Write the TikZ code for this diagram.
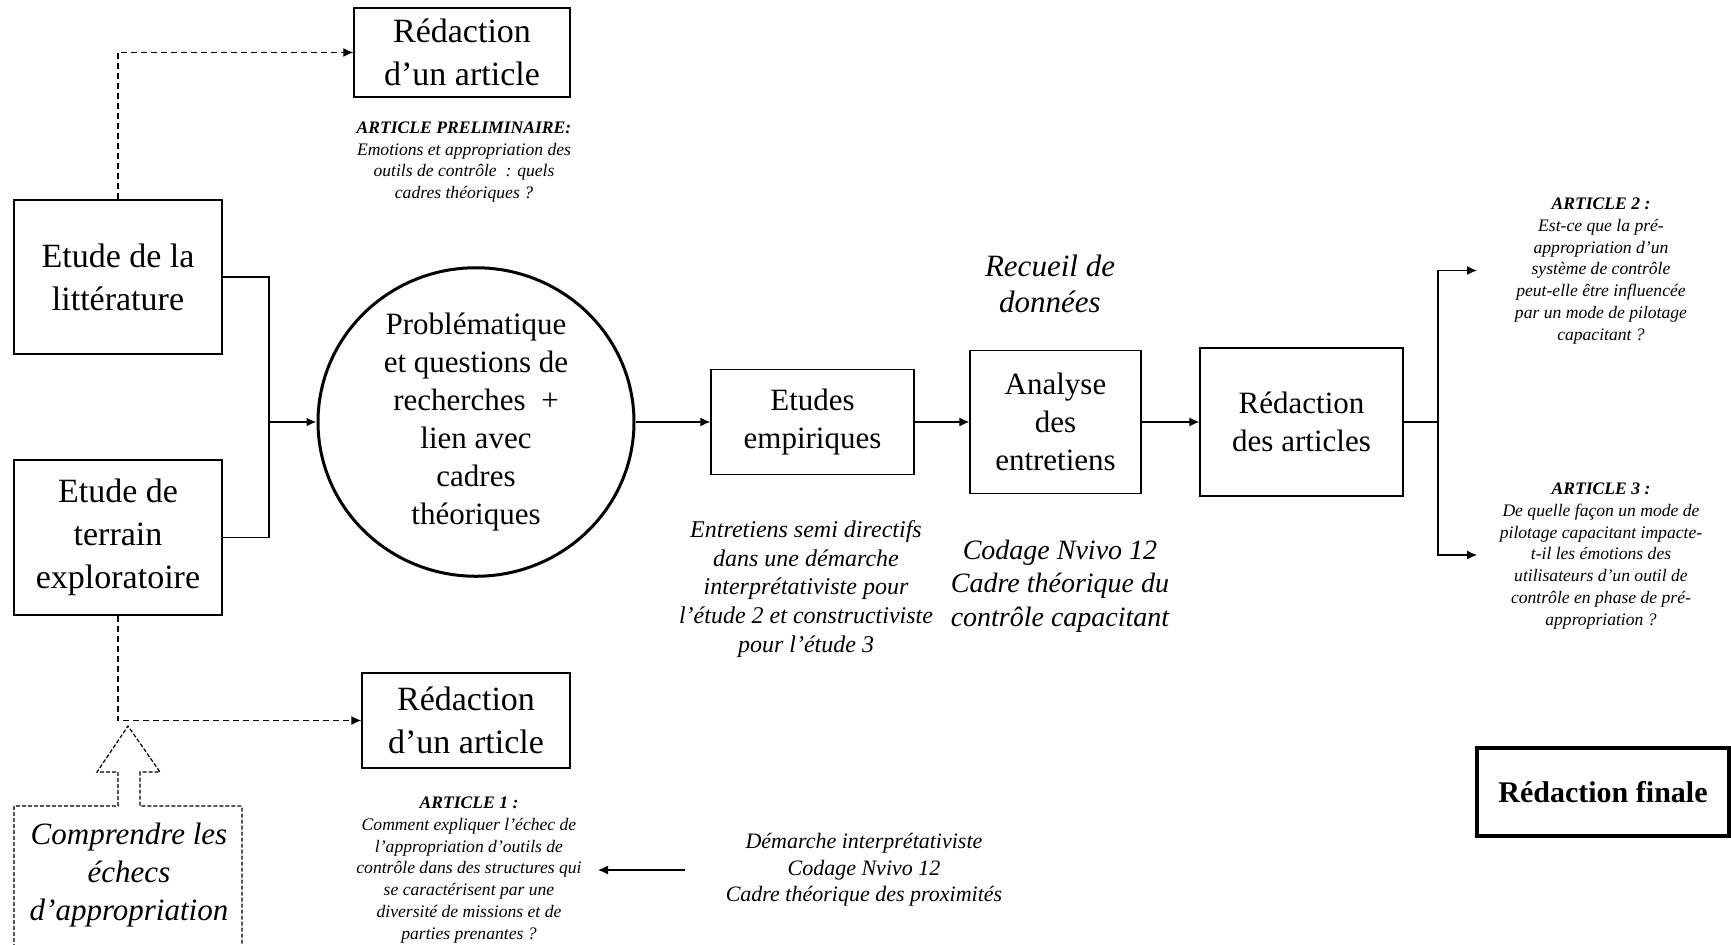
\documentclass[tikz,border=0pt]{standalone}
\usepackage{fontspec}
\setmainfont{Liberation Serif}
\usetikzlibrary{arrows.meta,shapes.geometric}

\begin{document}
\begin{tikzpicture}[x=0.5pt,y=-0.5pt]

\tikzset{boite/.style={draw,line width=0.7pt,align=center,inner sep=0pt,font=\fontsize{17}{21.5}\selectfont},}
\tikzset{etape/.style={draw,line width=0.7pt,align=center,inner sep=0pt,font=\fontsize{15.5}{19}\selectfont},}
\tikzset{petit/.style={align=center,inner sep=0pt,font=\itshape\fontsize{8.8}{10.9}\selectfont},}
\tikzset{note/.style={align=center,inner sep=0pt,font=\itshape},}
\tikzset{fleche/.style={-{Latex[length=5pt,width=4.5pt]},line width=0.6pt},}
\tikzset{pointille/.style={fleche,dash pattern=on 3pt off 2pt},}

\useasboundingbox (0,0) rectangle (1731,944);
\clip (0,0) rectangle (1731,944);

	\draw
		(462,52.5) node[boite,minimum width=108pt,minimum height=44.5pt] (redacA) {Rédaction\\d’un article}
		(118,277) node[boite,minimum width=104pt,minimum height=77pt] (lit) {Etude de la\\littérature}
		(118,537.5) node[boite,minimum width=104pt,minimum height=77.5pt] (terrain) {Etude de\\terrain\\exploratoire}
		(466,720.5) node[boite,minimum width=104pt,minimum height=47.5pt] (redacB) {Rédaction\\d’un article}

		(476,422) node[etape,ellipse,line width=1.5pt,minimum width=158pt,minimum height=151pt] (prob) {Problématique\\et questions de\\recherches~ +\\lien avec\\cadres\\théoriques}
		(812.5,422) node[etape,minimum width=101.5pt,minimum height=52.5pt] (emp) {Etudes\\empiriques}
		(1055.5,422) node[etape,minimum width=85.5pt,minimum height=71.5pt] (analyse) {Analyse\\des\\entretiens}
		(1301.5,422) node[etape,minimum width=101.5pt,minimum height=74pt] (redac) {Rédaction\\des articles}
		(1603,792) node[draw,line width=1.7pt,minimum width=126pt,minimum height=44pt,font=\bfseries\fontsize{15}{18}\selectfont] (finale) {Rédaction finale}

		(464,162) node[petit] (prelim) {\textbf{ARTICLE PRELIMINAIRE:}\\Emotions et appropriation des\\outils de contrôle~ : quels\\cadres théoriques ?}
		(1601,271) node[petit] (art2) {\textbf{ARTICLE 2 :}\\Est-ce que la pré-\\appropriation d’un\\système de contrôle\\peut-elle être influencée\\par un mode de pilotage\\capacitant ?}
		(1601,556) node[petit] (art3) {\textbf{ARTICLE 3 :}\\De quelle façon un mode de\\pilotage capacitant impacte-\\t-il les émotions des\\utilisateurs d’un outil de\\contrôle en phase de pré-\\appropriation ?}
		(469,870) node[petit] (art1) {\textbf{ARTICLE 1 :}\\Comment expliquer l’échec de\\l’appropriation d’outils de\\contrôle dans des structures qui\\se caractérisent par une\\diversité de missions et de\\parties prenantes ?}

		(1050,284) node[note,font=\itshape\fontsize{15.5}{18}\selectfont] (recueil) {Recueil de\\données}
		(806,589) node[note,font=\itshape\fontsize{12}{14.3}\selectfont] (entretiens) {Entretiens semi directifs\\dans une démarche\\interprétativiste pour\\l’étude 2 et constructiviste\\pour l’étude 3}
		(1060,586) node[note,font=\itshape\fontsize{14}{16.8}\selectfont] (codage) {Codage Nvivo 12\\Cadre théorique du\\contrôle capacitant}
		(864,870) node[note,font=\itshape\fontsize{11}{13.2}\selectfont] (demarche) {Démarche interprétativiste\\Codage Nvivo 12\\Cadre théorique des proximités}
		(129,875) node[note,font=\itshape\fontsize{15.5}{19}\selectfont] (comp) {Comprendre les\\échecs\\d’appropriation}
;

\coordinate (jonction) at (269,422);
\coordinate (partage) at (1438,422);
\coordinate (versA) at (1477,270.5);
\coordinate (versB) at (1477,555);

\draw[line width=0.6pt](lit.east) -| (jonction);
\draw[line width=0.6pt](terrain.east) -| (jonction);
\draw[fleche,line width=1.2pt](jonction) -- (prob.west);
\draw[fleche](prob.east) -- (emp.west);
\draw[fleche](emp.east) -- (analyse.west);
\draw[fleche](analyse.east) -- (redac.west);
\draw[line width=0.6pt](redac.east) -- (partage);
\draw[fleche](partage) |- (versA);
\draw[fleche](partage) |- (versB);
\draw[pointille](lit.north) |- (redacA.west);
\draw[pointille](terrain.south) |- (redacB.west);
\draw[fleche,shorten <=20pt,shorten >=8pt](demarche.west) -- (art1.east);

\draw[line width=0.6pt,dash pattern=on 2pt off 1pt]
	(14,960) -- (14,806) -- (118,806) -- (118,772) -- (97,772) -- (128,726)
	-- (160,772) -- (140,772) -- (140,806) -- (242,806) -- (242,960);

\end{tikzpicture}
\end{document}
